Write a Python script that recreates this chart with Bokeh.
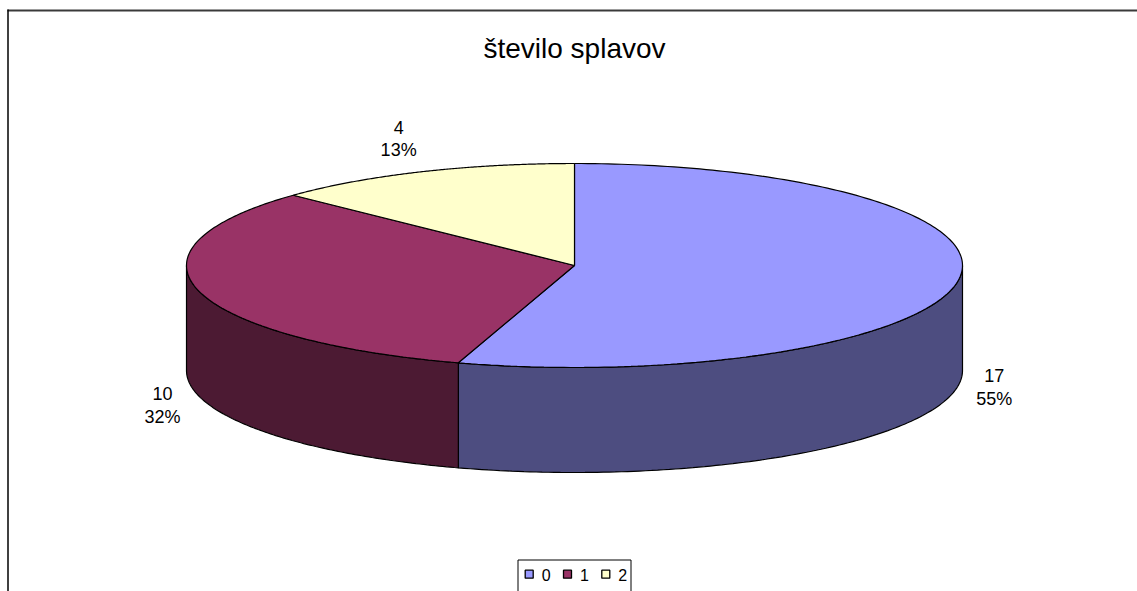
import numpy as np
from bokeh.plotting import figure
from bokeh.models import Range1d
from bokeh.embed import file_html
from bokeh.resources import INLINE
from bokeh.core.properties import value

# ---- data ----
categories = ["0", "1", "2"]
counts = [17, 10, 4]
top_colors = ["#9999FF", "#993366", "#FFFFCC"]
side_colors = ["#4D4D80", "#4C1A33", "#80806A"]
title_text = "število splavov"

W, H = 1137, 591
FONT = "Liberation Sans"

# layout (pixel space)
cx, cy = 574.0, 265.0
rx, ry = 388.0, 102.0
depth = 105.0

p = figure(width=W, height=H, output_backend="svg", toolbar_location=None,
           x_range=Range1d(0, W), y_range=Range1d(H, 0), min_border=0)
p.axis.visible = False
p.grid.visible = False
p.outline_line_color = None
p.background_fill_color = "white"
p.border_fill_color = "white"

def pt(theta_deg):
    t = np.radians(theta_deg)
    return cx + rx * np.cos(t), cy - ry * np.sin(t)

total = float(sum(counts))
angles = []
start = 90.0
for c in counts:
    sweep = c / total * 360.0
    angles.append((start, start - sweep))
    start -= sweep

# sides (front part: angles between -180 and 0)
for (a0, a1), sc in zip(angles, side_colors):
    lo, hi = a1, a0
    segs = []
    for shift in (0, -360, 360):
        s_lo, s_hi = lo + shift, hi + shift
        f_lo, f_hi = max(s_lo, -180.0), min(s_hi, 0.0)
        if f_hi > f_lo:
            segs.append((f_lo, f_hi))
    for f_lo, f_hi in segs:
        th = np.linspace(f_hi, f_lo, 120)
        xs_top, ys_top = pt(th)
        xs = np.concatenate([xs_top, xs_top[::-1]])
        ys = np.concatenate([ys_top, ys_top[::-1] + depth])
        p.patch(xs, ys, fill_color=sc, line_color="black", line_width=1.2)

# top faces
for (a0, a1), tc in zip(angles, top_colors):
    th = np.linspace(a0, a1, 200)
    xs, ys = pt(th)
    xs = np.concatenate([[cx], xs, [cx]])
    ys = np.concatenate([[cy], ys, [cy]])
    p.patch(xs, ys, fill_color=tc, line_color="black", line_width=1.2)

# labels
for (a0, a1), c in zip(angles, counts):
    mid = (a0 + a1) / 2.0
    px, py = pt(mid)
    if np.sin(np.radians(mid)) < 0:
        py += depth
    dx, dy = np.cos(np.radians(mid)), -np.sin(np.radians(mid))
    lx = px + 36 * dx + 26 * dx * dy * dy
    ly = py + 36 * dy - 4 * max(dx, 0.0)
    pct = f"{round(c / total * 100):d}%"
    p.text([lx, lx], [ly - 11.5, ly + 11.5], text=[str(c), pct],
           text_align="center", text_baseline="middle",
           text_font=value(FONT), text_font_size="18px", text_color="black")

# title
p.text([cx], [48], text=[title_text], text_align="center", text_baseline="middle",
       text_font=value(FONT), text_font_size="28px", text_color="black")

# chart border
p.line([7, W], [10, 10], line_color="#3a3a3a", line_width=2)
p.line([7.5, 7.5], [9, H], line_color="black", line_width=1.5)

# legend
lg_x0, lg_y0 = 517.5, 559.5
p.line([lg_x0, lg_x0, 630.5, 630.5], [H + 5, lg_y0, lg_y0, H + 5],
       line_color="black", line_width=1)
sq_x = [528.7, 567.0, 605.3]
for i, (cat, col) in enumerate(zip(categories, top_colors)):
    p.rect([sq_x[i]], [573.7], width=8, height=8, fill_color=col,
           line_color="black", line_width=1.3)
    p.text([sq_x[i] + 12.5], [574.0], text=[cat], text_align="left",
           text_baseline="middle", text_font=value(FONT),
           text_font_size="16px", text_color="black")

open("out.html", "w").write(file_html(p, INLINE))
